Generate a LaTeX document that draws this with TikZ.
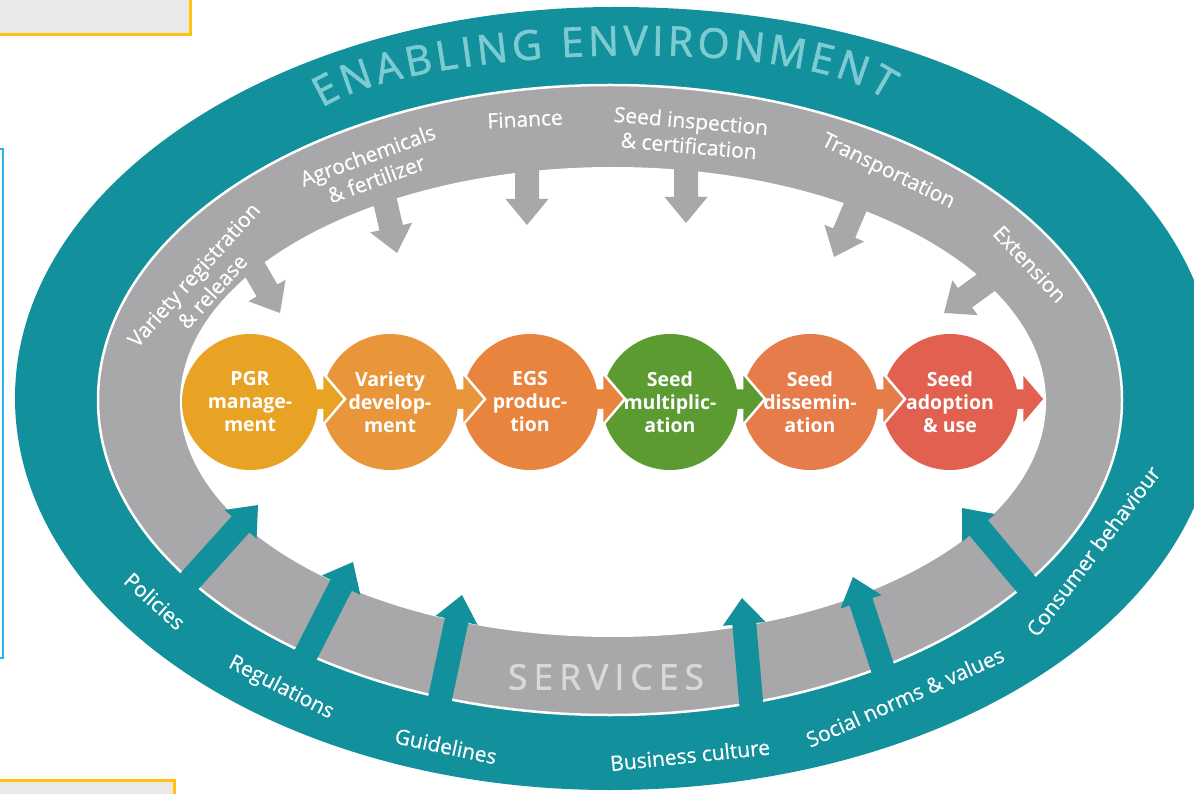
\documentclass[tikz,border=0pt]{standalone}
\usepackage{fontspec}
\setmainfont{Open Sans}
\newfontfamily\medfam{Open Sans}[FakeBold=1.6]
\newfontfamily\bookfam{Open Sans}[FakeBold=0.5]
\usetikzlibrary{decorations.text}

\definecolor{ringteal}{HTML}{12909C}
\definecolor{ringtext}{HTML}{7CCBD2}
\definecolor{ringgray}{HTML}{A8A8AA}
\definecolor{servtext}{HTML}{D9D9D9}
\definecolor{boxfill}{HTML}{EBE9E7}
\definecolor{boxyellow}{HTML}{FFC20E}
\definecolor{boxblue}{HTML}{2BB3EE}
\definecolor{cPGR}{HTML}{E8A224}
\definecolor{cVAR}{HTML}{E9963A}
\definecolor{cEGS}{HTML}{E8843E}
\definecolor{cMUL}{HTML}{5C9B31}
\definecolor{cDIS}{HTML}{E57C4A}
\definecolor{cADO}{HTML}{E1604F}

\newcommand\labelfont{\bookfam\fontsize{21}{25}\selectfont}
\newcommand\stagefont{\fontsize{19.5}{23}\selectfont\bfseries}
\newcommand\bigcaps{\medfam\fontsize{41}{44}\selectfont}
\newcommand\servfont{\medfam\fontsize{35}{38}\selectfont\addfontfeature{LetterSpace=18}}

\tikzset{
  stage/.style={circle, minimum size=136pt, inner sep=0pt, text=white,
    align=center, font=\stagefont},
  lab/.style={text=white, align=center, inner sep=0pt, font=\labelfont},
  % block arrow with its tip at the origin, pointing along +x
  pics/blockarrow/.style={code={
    \fill[pic actions] (-#1,-12) -- (-26,-12) -- (-26,-21.5) -- (0,0)
      -- (-26,21.5) -- (-26,12) -- (-#1,12) -- cycle;}},
  % flow arrow leaving a stage circle to the right
  pics/flowarrow/.style={code={
    \filldraw[fill=#1, draw=white, line width=2.5pt, line join=miter]
      (40,-3-11) -- (72,-3-11) -- (72,-3-27) -- (95,-3) -- (72,-3+27)
      -- (72,-3+11) -- (40,-3+11) -- cycle;}}
}

\begin{document}
\begin{tikzpicture}[x=1pt, y=-1pt]
\useasboundingbox (0,0) rectangle (1194,794);
\clip (0,0) rectangle (1194,794);
\fill[white] (0,0) rectangle (1194,794);

% side panels
\filldraw[fill=boxfill, draw=boxyellow, line width=3pt] (-10,-10) rectangle (190,35);
\filldraw[fill=white, draw=boxblue, line width=2.5pt] (-10,149) rectangle (3,658);
\filldraw[fill=boxfill, draw=boxyellow, line width=3pt] (-10,780) rectangle (174,810);

% outer ring, a little wider on its right-hand side
\fill[ringteal] (1218,398)
  .. controls (1218,168) and (965,7) .. (615,7)
  .. controls (284,7) and (15,182) .. (15,398)
  .. controls (15,614) and (280,790) .. (610,790)
  .. controls (948,790) and (1218,614) .. (1218,398) -- cycle;
% services / environment band
\filldraw[fill=ringgray, draw=white, line width=2.5pt] (610,400) ellipse [x radius=512, y radius=315];
\fill[white] (613,402) ellipse [x radius=433, y radius=235];

% inputs from the enabling environment
\pic[fill=ringgray, rotate=-60]  at (280,313) {blockarrow=70};
\pic[fill=ringgray, rotate=-77]  at (397,253) {blockarrow=65};
\pic[fill=ringgray, rotate=-90]  at (527,225) {blockarrow=62};
\pic[fill=ringgray, rotate=-90]  at (686,223) {blockarrow=62};
\pic[fill=ringgray, rotate=-113] at (834,257) {blockarrow=65};
\pic[fill=ringgray, rotate=-144] at (944,313) {blockarrow=65};

% services arrows
\pic[fill=ringteal, rotate=48]  at (258,505) {blockarrow=115};
\pic[fill=ringteal, rotate=63]  at (353,562) {blockarrow=115};
\pic[fill=ringteal, rotate=78]  at (462,595) {blockarrow=120};
\pic[fill=ringteal, rotate=95]  at (742,598) {blockarrow=125};
\pic[fill=ringteal, rotate=108] at (853,577) {blockarrow=115};
\pic[fill=ringteal, rotate=130] at (962,508) {blockarrow=115};

% value chain stages
\coordinate (p1) at (250,402);
\coordinate (p2) at (390,402);
\coordinate (p3) at (530,402);
\coordinate (p4) at (670,402);
\coordinate (p5) at (810,402);
\coordinate (p6) at (950,402);

\pic at (p6) {flowarrow=cADO};
\node[stage, fill=cADO] (ado) at (p6) {Seed\\adoption\\\& use};
\pic at (p5) {flowarrow=cDIS};
\node[stage, fill=cDIS] (dis) at (p5) {Seed\\dissemin-\\ation};
\pic at (p4) {flowarrow=cMUL};
\node[stage, fill=cMUL] (mul) at (p4) {Seed\\multiplic-\\ation};
\pic at (p3) {flowarrow=cEGS};
\node[stage, fill=cEGS] (egs) at (p3) {EGS\\produc-\\tion};
\pic at (p2) {flowarrow=cVAR};
\node[stage, fill=cVAR] (var) at (p2) {Variety\\develop-\\ment};
\pic at (p1) {flowarrow=cPGR};
\node[stage, fill=cPGR] (pgr) at (p1) {PGR\\manage-\\ment};

% ring titles
\path[decorate, decoration={text along path, text color=ringtext,
    text={|\bigcaps|ENABLING ENVIRONMENT}, text align={fit to path}}]
  (322,108) .. controls (415,47) and (795,32) .. (886,100);
\node[text=servtext, inner sep=0pt, font=\servfont] (services) at (606,677) {SERVICES};

% enabling environment labels
\node[lab, rotate=48]  (reg)  at (203,283) {Variety registration\\\& release};
\node[lab, rotate=20]  (agro) at (372,167) {Agrochemicals\\\& fertilizer};
\node[lab, rotate=3]   (fin)  at (525,119) {Finance};
\node[lab, rotate=-5]  (insp) at (690,133) {Seed inspection\\\& certification};
\node[lab, rotate=-26] (tra)  at (888,172) {Transportation};
\node[lab, rotate=-47] (ext)  at (1030,264) {Extension};

% services labels
\node[lab, rotate=-42] (pol) at (155,601) {Policies};
\node[lab, rotate=-27] (rgl) at (281,688) {Regulations};
\node[lab, rotate=-12] (gui) at (446,746) {Guidelines};
\node[lab, rotate=6]   (bus) at (690,755) {Business culture};
\node[lab, rotate=24]  (soc) at (905,697) {Social norms \& values};
\node[lab, rotate=53]  (con) at (1093,551) {Consumer behaviour};
\end{tikzpicture}
\end{document}
